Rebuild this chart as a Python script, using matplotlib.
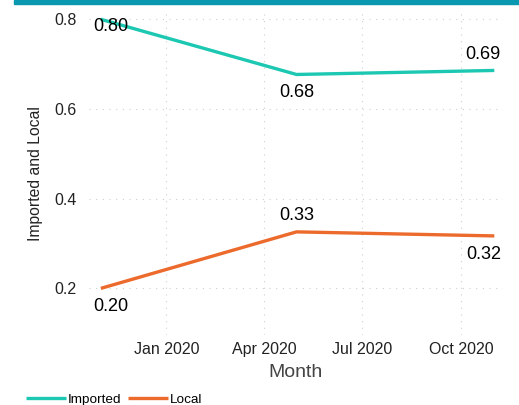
from matplotlib import pyplot as plt
import matplotlib.dates as mdates
import numpy as np
import pandas as pd

plt.rcParams['font.family'] = ['Liberation Sans', 'DejaVu Sans']

# data
months = ['2019-11-01', '2020-05-01', '2020-11-01']
imported = [0.80, 0.677, 0.686]
local = [0.20, 0.326, 0.317]

x = pd.to_datetime(months)

teal = '#1cc8b2'
orange = '#ec6a2b'

fig = plt.figure(figsize=(5.19, 4.05), dpi=100)
ax = fig.add_axes([0.1715, 0.1728, 0.969 - 0.1715, 0.970 - 0.1728])

# top accent bar
fig.patches.append(plt.Rectangle((14 / 519, 1 - 4 / 405), 1, 4 / 405,
                                 transform=fig.transFigure, color='#0a97b0',
                                 zorder=5))

ax.plot(x, imported, color=teal, lw=2.4, label='Imported', solid_capstyle='butt')
ax.plot(x, local, color=orange, lw=2.4, label='Local', solid_capstyle='butt')

# label offsets in pixels (dx, dy) per point
imp_off = [(10, -7), (0, -18), (-11, 16)]
loc_off = [(10, -18), (0, 16), (-11, -19)]
for xs, ys, offs in [(x, imported, imp_off), (x, local, loc_off)]:
    for xi, yi, (dx, dy) in zip(xs, ys, offs):
        ax.annotate(f'{yi:.2f}', (xi, yi), xytext=(dx, dy),
                    textcoords='offset pixels', ha='center', va='center',
                    fontsize=13, color='black')

ax.set_xlim(pd.Timestamp('2019-10-21'), pd.Timestamp('2020-11-09'))
ax.set_ylim(0.096, 0.816)
ax.set_yticks([0.2, 0.4, 0.6, 0.8])
ax.set_yticklabels(['0.2', '0.4', '0.6', '0.8'])
ax.xaxis.set_major_locator(mdates.MonthLocator(bymonth=[1, 4, 7, 10]))
ax.xaxis.set_major_formatter(mdates.DateFormatter('%b %Y'))

ax.grid(True, linestyle=(0, (1, 5)), color='#cfcfcf', lw=0.8)
ax.set_axisbelow(True)
for s in ax.spines.values():
    s.set_visible(False)
ax.tick_params(axis='both', length=0, labelsize=11.5, colors='#222222')
ax.tick_params(axis='y', pad=9)
ax.tick_params(axis='x', pad=5)

ax.set_xlabel('Month', fontsize=14, color='#444444', labelpad=5)
ax.set_ylabel('Imported and Local', fontsize=11.3, color='#222222', labelpad=8)

fig.legend(loc='lower left', bbox_to_anchor=(0.026, -0.032), ncol=2, frameon=False,
           fontsize=9.7, handlelength=3.0, handletextpad=0.1, columnspacing=0.5)

fig.savefig('out.png', dpi=100)
